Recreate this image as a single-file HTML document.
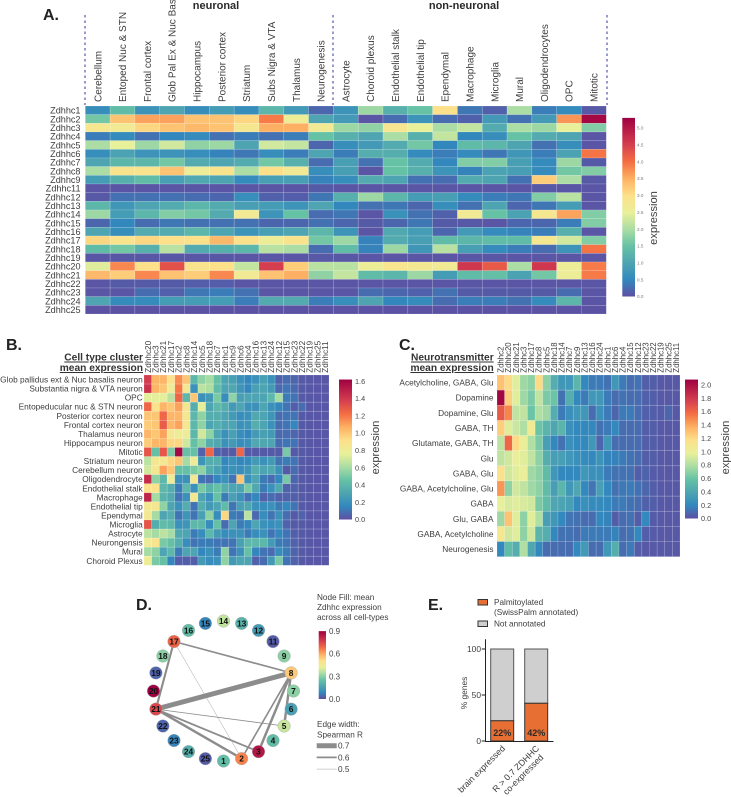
<!DOCTYPE html>
<html><head><meta charset="utf-8"><title>Zdhhc expression figure</title>
<style>
html,body{margin:0;padding:0;background:#fff}
svg{display:block;font-family:"Liberation Sans",Arial,sans-serif;filter:blur(.3px)}
text{fill:#3d3d3d}
.panel{font-weight:bold;font-size:16px;fill:#222}
.hdr{font-weight:bold;font-size:11px;fill:#2a2a2a;text-anchor:middle}
.ttl{font-weight:bold;font-size:10.2px;text-anchor:end;text-decoration:underline;fill:#333}
.lg{font-size:8.2px}
</style></head><body>
<svg id="fig" xmlns="http://www.w3.org/2000/svg" width="731" height="797" viewBox="0 0 731 797">
<defs id="defs"></defs>
<text class="panel" x="43" y="20">A.</text>
<text class="panel" x="6" y="350">B.</text>
<text class="panel" x="399" y="350">C.</text>
<text class="panel" x="136" y="610">D.</text>
<text class="panel" x="428" y="610">E.</text>
<text class="hdr" x="216" y="9">neuronal</text>
<text class="hdr" x="464" y="9">non-neuronal</text>
<line x1="85" y1="15" x2="85" y2="105" stroke="#2f3596" stroke-width="1" stroke-dasharray="2.5 3"/>
<line x1="333" y1="15" x2="333" y2="105" stroke="#2f3596" stroke-width="1" stroke-dasharray="2.5 3"/>
<line x1="607" y1="15" x2="607" y2="105" stroke="#2f3596" stroke-width="1" stroke-dasharray="2.5 3"/>
<text class="ttl" x="143" y="360.5">Cell type cluster</text>
<text class="ttl" x="143" y="371">mean expression</text>
<text class="ttl" x="493.7" y="360.5">Neurotransmitter</text>
<text class="ttl" x="493.7" y="371">mean expression</text>
<text class="lg" x="317" y="600">Node Fill: mean</text>
<text class="lg" x="317" y="610">Zdhhc expression</text>
<text class="lg" x="317" y="620">across all cell-types</text>
<text class="lg" x="317" y="727">Edge width:</text>
<text class="lg" x="317" y="737.5">Spearman R</text>
<text class="lg" x="494" y="605">Palmitoylated</text>
<text class="lg" x="494" y="615">(SwissPalm annotated)</text>
<text class="lg" x="494" y="626.5">Not annotated</text>
<rect x="478" y="599.5" width="9.5" height="5.5" fill="#e86f33" stroke="#333" stroke-width="1"/>
<rect x="478" y="621" width="9.5" height="5.5" fill="#cfcfcf" stroke="#333" stroke-width="1"/>
</svg>
<script>
const cmapStops = ['#5e4fa2','#3288bd','#4ea5b1','#66c2a5','#abdda4','#e9f09a','#fde08a','#fdb063','#f46d43','#d53e4f','#9e0142'];
const cmapPos = [0,.094,.19,.283,.377,.47,.566,.66,.755,.85,1];

const rowsA = ['Zdhhc1','Zdhhc2','Zdhhc3','Zdhhc4','Zdhhc5','Zdhhc6','Zdhhc7','Zdhhc8','Zdhhc9','Zdhhc11','Zdhhc12','Zdhhc13','Zdhhc14','Zdhhc15','Zdhhc16','Zdhhc17','Zdhhc18','Zdhhc19','Zdhhc20','Zdhhc21','Zdhhc22','Zdhhc23','Zdhhc24','Zdhhc25'];
const colsA = ['Cerebellum','Entoped Nuc & STN','Frontal cortex','Glob Pal Ex & Nuc Bas','Hippocampus','Posterior cortex','Striatum','Subs Nigra & VTA','Thalamus','Neurogenesis','Astrocyte','Choroid plexus','Endothelial stalk','Endothelial tip','Ependymal','Macrophage','Microglia','Mural','Oligodendrocytes','OPC','Mitotic'];
const valuesA = [
[.6,1.4,.7,1.0,.6,.85,.6,1.3,.8,.2,.7,1.9,1.2,1.5,3.0,.35,.15,2.0,.4,.55,.08],
[1.6,3.3,3.6,3.6,3.3,3.3,3.1,3.9,2.6,1.0,.8,.05,.25,.7,.25,.15,.8,.3,.8,3.7,5.2],
[2.8,2.7,3.1,3.3,3.4,3.3,2.8,3.5,3.5,2.7,1.9,1.8,2.85,2.5,2.0,2.2,1.1,2.0,1.9,2.5,1.7],
[.4,.55,.3,.5,.55,.3,.4,.3,.4,1.5,1.2,1.0,2.0,1.2,2.2,.5,.6,1.5,1.1,1.0,.05],
[2.0,2.5,1.9,2.3,1.8,1.9,1.0,2.3,2.2,.2,.6,.8,1.1,1.6,.5,1.4,1.3,1.0,.3,.6,.05],
[.6,.95,.7,.7,.6,.45,.35,.6,.4,1.0,.4,1.15,1.15,.55,.4,.55,.35,.75,.4,.95,3.95],
[1.0,1.3,1.3,1.6,1.1,1.0,1.1,1.6,1.2,.25,.9,.3,1.5,1.1,.5,1.7,1.7,.9,.55,1.9,.1],
[2.0,2.9,2.9,3.3,2.6,2.9,2.0,3.0,2.7,.6,.9,.05,1.5,1.2,.7,.45,.95,.9,.55,1.6,1.7],
[.85,1.2,1.4,.9,1.05,1.0,.55,.9,.9,.45,.6,1.1,1.0,.3,.25,1.1,1.0,.3,3.2,2.0,.08],
[.05,.05,.05,.05,.06,.05,.05,.05,.05,.1,.05,.05,.05,.05,.05,.05,.05,.05,.08,.06,.05],
[.08,.3,.3,.3,.25,.2,.6,.15,.12,.35,1.2,1.9,1.3,.85,.9,.55,.4,.35,1.7,2.1,.05],
[1.3,.75,1.0,1.1,1.3,1.1,.9,.85,.7,1.0,.5,.3,.35,.2,.6,.3,1.0,.2,.35,.85,.05],
[1.9,.85,1.3,1.7,1.6,1.1,2.7,.7,1.5,.25,.35,.05,.65,.3,.15,2.7,1.5,.95,2.8,3.6,1.7],
[.2,.5,.25,.35,.3,.3,.3,.2,.2,.3,.2,.1,.2,.35,.1,.08,.05,.2,.2,.4,1.7],
[1.0,.6,1.1,1.1,1.3,1.0,.7,.9,1.0,1.3,.7,.05,1.05,.85,.2,.8,.55,.45,.4,1.2,.05],
[3.1,2.9,3.1,3.0,3.0,3.4,3.0,2.6,2.9,1.6,1.9,.45,1.1,.9,1.4,1.3,1.4,1.4,2.8,2.3,1.7],
[1.4,1.6,1.2,2.1,1.1,1.2,1.3,2.1,2.0,.25,1.4,.45,1.9,.75,2.1,.9,.55,.4,.25,.7,3.95],
[.06,.07,.06,.07,.06,.07,.05,.06,.06,.08,.07,.05,.05,.05,.05,.06,.06,.05,.05,.05,.05],
[2.4,3.8,3.0,4.3,2.9,3.0,2.2,4.5,3.2,2.1,2.1,2.6,2.85,2.75,2.7,4.6,4.2,2.0,4.6,2.6,3.9],
[3.4,3.2,3.8,3.3,3.2,3.8,2.7,3.3,3.5,1.8,2.2,1.4,1.3,1.9,.85,1.4,1.45,.95,1.6,2.6,3.9],
[.05,.1,.1,.1,.12,.12,.05,.05,.05,.05,.05,.05,.05,.05,.05,.06,.06,.05,.05,.05,.05],
[.05,.05,.25,.15,.35,.4,.3,.05,.05,.05,.05,.25,.2,.15,.3,.1,.1,.1,.1,.25,.05],
[1.0,.55,.55,.85,.85,.85,.4,1.1,1.1,.4,.6,1.0,.5,.55,.25,.4,.4,.3,.55,1.3,.05],
[.03,.03,.03,.03,.03,.03,.03,.03,.03,.03,.03,.03,.03,.03,.03,.03,.03,.03,.03,.03,.03]
];

const rowsB = ['Glob pallidus ext & Nuc basalis neuron','Substantia nigra & VTA neuron','OPC','Entopeducular nuc & STN neuron','Posterior cortex neuron','Frontal cortex neuron','Thalamus neuron','Hippocampus neuron','Mitotic','Striatum neuron','Cerebellum neuron','Oligodendrocyte','Endothelial stalk','Macrophage','Endothelial tip','Ependymal','Microglia','Astrocyte','Neurongensis','Mural','Choroid Plexus'];
const colsB = ['Zdhhc20','Zdhhc3','Zdhhc21','Zdhhc17','Zdhhc2','Zdhhc8','Zdhhc14','Zdhhc5','Zdhhc18','Zdhhc7','Zdhhc1','Zdhhc9','Zdhhc6','Zdhhc4','Zdhhc16','Zdhhc13','Zdhhc24','Zdhhc12','Zdhhc15','Zdhhc23','Zdhhc22','Zdhhc19','Zdhhc25','Zdhhc11'];
const valuesB = [
[1.38,1.05,1.05,.9,1.15,1.0,.4,.55,.6,.45,.3,.28,.2,.15,.2,.28,.2,.05,.08,.06,.03,.02,.02,.02],
[1.42,1.05,1.0,.8,1.2,.85,.2,.65,.62,.42,.3,.32,.22,.15,.28,.3,.25,.07,.1,.07,.03,.02,.02,.02],
[.75,.75,.75,.65,1.25,.4,1.0,.2,.25,.5,.18,.55,.28,.3,.3,.3,.4,.6,.12,.1,.03,.02,.02,.02],
[1.25,.9,1.05,1.0,1.1,.85,.35,.75,.3,.4,.35,.25,.3,.2,.2,.3,.2,.15,.1,.04,.08,.02,.02,.02],
[1.0,1.0,1.25,1.05,1.05,.85,.4,.55,.35,.35,.3,.25,.18,.2,.32,.3,.22,.08,.1,.1,.03,.02,.02,.02],
[.98,1.0,1.28,1.05,1.1,.85,.4,.55,.3,.35,.3,.3,.2,.22,.35,.3,.2,.08,.1,.15,.03,.02,.02,.02],
[1.05,1.0,1.1,.85,.8,.8,.4,.7,.55,.3,.2,.28,.18,.15,.25,.28,.25,.07,.08,.06,.03,.02,.02,.02],
[.98,1.05,1.05,.95,.95,.7,.45,.55,.35,.32,.2,.25,.18,.2,.32,.32,.3,.08,.1,.1,.03,.02,.02,.02],
[1.3,.45,1.3,.5,1.6,.45,.45,.05,1.25,.05,.03,.03,1.25,.03,.03,.03,.03,.03,.5,.03,.03,.02,.02,.02],
[.65,.85,.85,.95,1.0,.6,.8,.22,.35,.35,.15,.2,.15,.17,.25,.2,.25,.1,.12,.1,.03,.02,.02,.02],
[.7,.85,1.1,1.0,.45,.45,.5,.55,.35,.28,.17,.2,.18,.22,.35,.3,.32,.2,.03,.08,.03,.02,.02,.02],
[1.45,.55,.4,.8,.2,.2,.85,.1,.08,.15,.2,.1,1.0,.2,.3,.12,.08,.15,.5,.06,.03,.02,.02,.02],
[.9,.9,.4,.35,.12,.4,.2,.5,.38,.45,.35,.3,.3,.5,.32,.12,.2,.32,.05,.05,.03,.02,.02,.02],
[1.48,.6,.38,.33,.1,.2,.85,.3,.2,.45,.12,.28,.2,.1,.15,.05,.08,.05,.05,.04,.03,.02,.02,.02],
[.85,.85,.55,.3,.2,.35,.1,.35,.25,.3,.42,.1,.28,.32,.2,.18,.2,.12,.15,.1,.03,.02,.02,.02],
[.85,.6,.3,.35,.1,.22,.1,.28,.55,.18,.95,.12,.1,.65,.07,.18,.1,.2,.08,.03,.05,.02,.02,.02],
[1.3,.35,.42,.4,.2,.22,.4,.4,.18,.45,.08,.3,.12,.15,.3,.2,.18,.2,.05,.03,.03,.02,.02,.02],
[.65,.6,.65,.6,.32,.3,.12,.18,.4,.25,.18,.2,.2,.12,.18,.2,.1,.15,.1,.04,.03,.02,.02,.02],
[.8,.9,.5,.45,.35,.18,.1,.12,.12,.1,.1,.1,.28,.4,.4,.4,.25,.12,.1,.05,.03,.02,.02,.02],
[.6,.55,.3,.4,.12,.3,.3,.15,.2,.12,.55,.1,.2,.45,.15,.1,.08,.18,.12,.05,.03,.02,.02,.02],
[.8,.5,.45,.15,.04,.04,.04,.25,.18,.2,.55,.25,.3,.3,.05,.08,.25,.5,.1,.05,.03,.02,.02,.02]
];

const rowsC = ['Acetylcholine, GABA, Glu','Dopamine','Dopamine, Glu','GABA, TH','Glutamate, GABA, TH','Glu','GABA, Glu','GABA, Acetylcholine, Glu','GABA','Glu, GABA','GABA, Acetylcholine','Neurogenesis'];
const colsC = ['Zdhhc2','Zdhhc20','Zdhhc21','Zdhhc3','Zdhhc17','Zdhhc8','Zdhhc5','Zdhhc18','Zdhhc14','Zdhhc7','Zdhhc9','Zdhhc13','Zdhhc16','Zdhhc24','Zdhhc1','Zdhhc6','Zdhhc4','Zdhhc15','Zdhhc12','Zdhhc23','Zdhhc22','Zdhhc19','Zdhhc25','Zdhhc11'];
const valuesC = [
[1.3,1.2,.95,.75,.7,1.2,.7,.45,.3,.3,.5,.2,.15,.15,.12,.3,.15,.1,.12,.05,.05,.03,.03,.03],
[2.05,1.25,.95,.75,.65,.85,.65,.6,.12,.45,.2,.15,.3,.3,.15,.1,.12,.1,.1,.06,.05,.03,.03,.03],
[1.65,1.5,.85,.85,.6,.8,.75,.45,.15,.25,.3,.3,.1,.25,.15,.08,.15,.15,.1,.06,.05,.04,.08,.03],
[1.25,.95,.88,.8,1.05,.6,.5,.4,.5,.25,.2,.2,.2,.12,.15,.2,.1,.1,.1,.05,.05,.03,.03,.03],
[.85,1.6,1.2,1.0,.8,.65,.35,.2,.12,.25,.2,.2,.3,.08,.3,.1,.1,.1,.1,.05,.05,.03,.03,.03],
[.85,.9,1.0,.95,.85,.7,.45,.35,.35,.3,.25,.22,.2,.28,.18,.18,.15,.12,.1,.05,.05,.03,.03,.03],
[1.15,.9,.95,1.0,.75,.7,.55,.3,.2,.2,.2,.3,.25,.25,.15,.12,.12,.12,.05,.07,.04,.03,.03,.03],
[1.45,.7,.9,.85,.75,.7,.55,.35,.5,.3,.4,.2,.13,.35,.2,.12,.14,.15,.12,.08,.05,.03,.03,.03],
[.98,.92,.95,.92,.9,.65,.55,.4,.38,.35,.2,.25,.22,.22,.2,.15,.15,.12,.1,.06,.05,.03,.03,.03],
[.75,1.3,.95,.7,.95,.8,.35,.3,.2,.13,.12,.1,.1,.2,.18,.05,.1,.12,.05,.2,.04,.03,.03,.03],
[1.1,.9,.95,.7,.9,.5,.45,.2,.12,.12,.1,.15,.15,.15,.15,.18,.1,.12,.2,.05,.04,.03,.03,.03],
[.2,.55,.45,.8,.4,.2,.1,.1,.1,.1,.2,.32,.1,.1,.3,.45,.1,.15,.05,.03,.03,.03,.03,.03]
];

const ticksA = [0,.5,1,1.5,2,2.5,3,3.5,4,4.5,5];
const ticksB = [0,.2,.4,.6,.8,1,1.2,1.4,1.6];
const ticksC = [0,.2,.4,.6,.8,1,1.2,1.4,1.6,1.8,2];
const ticksD = [0,.3,.6,.9];

const nodeIds = [1,2,3,4,5,6,7,8,9,11,12,13,14,15,16,17,18,19,20,21,22,23,24,25];
const nodeExpr = [.24,.65,.85,.24,.38,.16,.3,.55,.3,.02,.14,.21,.37,.08,.24,.7,.3,.03,.9,.75,.03,.08,.2,.02];
const edgeFrom = [8,17,17,17,21,21,21,8,8,8];
const edgeTo = [21,8,21,2,2,3,5,2,3,5];
const edgeR = [.7,.59,.61,.5,.62,.6,.53,.59,.62,.62];
const legendR = [.7,.6,.5];

const barCats = ['brain expressed','R > 0.7 ZDHHC'];
const barPalm = [22,41];
const barLabels = ['22%','42%'];
const barTicks = [0,50,100];

const NS = 'http://www.w3.org/2000/svg';
const fig = document.getElementById('fig');
const defs = document.getElementById('defs');
function mk(tag, attrs, text){
  const e = document.createElementNS(NS, tag);
  for (const k in attrs) e.setAttribute(k, attrs[k]);
  if (text !== undefined) e.textContent = text;
  fig.appendChild(e);
  return e;
}
function hex(c){ return [1,3,5].map(i => parseInt(c.substr(i,2),16)); }
function cmap(t){
  t = Math.max(0, Math.min(1, t));
  let i = 0;
  while (i < cmapPos.length - 2 && t > cmapPos[i+1]) i++;
  const f = (t - cmapPos[i]) / (cmapPos[i+1] - cmapPos[i]);
  const a = hex(cmapStops[i]), b = hex(cmapStops[i+1]);
  return 'rgb(' + a.map((v,k) => Math.round(v + (b[k]-v)*f)).join(',') + ')';
}
function heatmap(prefix, cfg){
  const cw = cfg.w / cfg.cols.length, rh = cfg.h / cfg.rows.length;
  const xBand = i => cfg.x + i * cw;
  const yBand = j => cfg.y + j * rh;
  cfg.vals.forEach((row, j) => row.forEach((v, i) => {
    const c = mk('rect', {x:xBand(i), y:yBand(j), width:cw, height:rh, fill:cmap(v/cfg.vmax), stroke:'rgba(255,255,255,.25)', 'stroke-width':.6});
    
    
  }));
  cfg.rows.forEach((r, j) => {
    const t = mk('text', {x:cfg.rowX, y:yBand(j)+rh/2+cfg.rowFs*.36, 'text-anchor':'end', 'font-size':cfg.rowFs}, r);
    
    
  });
  cfg.cols.forEach((c, i) => {
    const cx = xBand(i) + cw/2 + cfg.colFs*.36;
    const t = mk('text', {transform:'translate('+cx+','+cfg.colY+') rotate(-90)', 'font-size':cfg.colFs}, c);
    
    
  });
}
function colorbar(id, cfg){
  const g = document.createElementNS(NS, 'linearGradient');
  g.setAttribute('id', id);
  g.setAttribute('x1', '0'); g.setAttribute('y1', '1'); g.setAttribute('x2', '0'); g.setAttribute('y2', '0');
  cmapStops.forEach((c, i) => {
    const s = document.createElementNS(NS, 'stop');
    s.setAttribute('offset', cmapPos[i]);
    s.setAttribute('stop-color', c);
    g.appendChild(s);
  });
  defs.appendChild(g);
  const yScale = v => cfg.zero - v * cfg.perUnit;
  const top = yScale(cfg.vmax);
  const b = mk('rect', {x:cfg.x, y:top, width:cfg.w, height:cfg.zero-top, fill:'url(#'+id+')'});
  
  
  cfg.ticks.forEach(v => {
    const t = mk('text', {x:cfg.labelX, y:yScale(v)+cfg.fs*.36, 'font-size':cfg.fs, fill:cfg.color, style:'fill:'+cfg.color}, v.toFixed(1));
    
    
  });
  if (cfg.titleX) {
    const t = mk('text', {transform:'translate('+cfg.titleX+','+cfg.titleY+') rotate(-90)', 'font-size':11.1, 'text-anchor':'middle'}, 'expression');
    
    
  }
}

heatmap('a', {x:85.3, y:106, w:521, h:208, rows:rowsA, cols:colsA, vals:valuesA, vmax:5.3, rowX:80.5, rowFs:9.1, colY:102, colFs:10});
heatmap('b', {x:144, y:375, w:185, h:190.3, rows:rowsB, cols:colsB, vals:valuesB, vmax:1.62, rowX:142.7, rowFs:8.3, colY:372.7, colFs:8.2});
heatmap('c', {x:497, y:375, w:183, h:181.7, rows:rowsC, cols:colsC, vals:valuesC, vmax:2.08, rowX:493.5, rowFs:8.3, colY:372.7, colFs:7.8});
colorbar('cbA', {x:622.3, w:12.7, zero:296.5, perUnit:33.7, vmax:5.3, ticks:ticksA, labelX:637, fs:4.6, color:'#777', titleX:657, titleY:218});
colorbar('cbB', {x:339, w:13, zero:519.5, perUnit:86.4, vmax:1.62, ticks:ticksB, labelX:355, fs:7.3, color:'#444', titleX:379, titleY:447.5});
colorbar('cbC', {x:685, w:13, zero:518.5, perUnit:66.8, vmax:2.08, ticks:ticksC, labelX:701, fs:7.3, color:'#444', titleX:729, titleY:447.5});
colorbar('cbD', {x:318.7, w:7.3, zero:699, perUnit:75.4, vmax:.9, ticks:ticksD, labelX:329, fs:8, color:'#444'});

/* network */
const netCx = 223.5, netCy = 691, netR = 70;
const nodeX = id => netCx + netR * Math.cos((90 - nodeIds.indexOf(id)*15) * Math.PI/180);
const nodeY = id => netCy + netR * Math.sin((90 - nodeIds.indexOf(id)*15) * Math.PI/180);
const edgeWidth = r => r >= .6 ? 1.8 + (r-.6)*32 : Math.max(.4, .4 + (r-.5)*14);
edgeFrom.forEach((a, i) => {
  const l = mk('line', {x1:nodeX(a), y1:nodeY(a), x2:nodeX(edgeTo[i]), y2:nodeY(edgeTo[i]), stroke:'#8c8c8c', 'stroke-width':edgeWidth(edgeR[i])});
  
  
});
nodeIds.forEach((id, i) => {
  const c = mk('circle', {cx:nodeX(id), cy:nodeY(id), r:6.3, fill:cmap(nodeExpr[i]/.9), stroke:'#a8a8a8', 'stroke-width':.4});
  
  
  const t = mk('text', {x:nodeX(id), y:nodeY(id)+3, 'text-anchor':'middle', 'font-size':8.4, 'font-weight':'bold', style:'fill:#111'}, id);
  
  
});
legendR.forEach((r, i) => {
  const y = 745.7 + i * 11.7;
  const l = mk('line', {x1:316.7, y1:y, x2:336.7, y2:y, stroke:'#8c8c8c', 'stroke-width':edgeWidth(r)});
  
  
  const t = mk('text', {x:338, y:y+3, 'font-size':8.2}, r.toFixed(1));
  
  
});

/* stacked bars */
const yE = v => 741 - v * .92;
const xE = i => 490.7 + i * 34;
const barW = 23;
barPalm.forEach((v, i) => {
  const g = mk('rect', {x:xE(i), y:yE(100), width:barW, height:yE(v)-yE(100), fill:'#cfcfcf', stroke:'#555', 'stroke-width':1});
  
  
  const o = mk('rect', {x:xE(i), y:yE(v), width:barW, height:yE(0)-yE(v), fill:'#e86f33', stroke:'#333', 'stroke-width':1});
  
  
  const t = mk('text', {x:xE(i)+barW/2, y:736, 'text-anchor':'middle', 'font-size':9, 'font-weight':'bold', style:'fill:#2a2a2a'}, barLabels[i]);
  
  
});
barTicks.forEach(v => {
  const l = mk('line', {x1:481.7, y1:yE(v), x2:485.3, y2:yE(v), stroke:'#222', 'stroke-width':1});
  
  
  const t = mk('text', {x:481, y:yE(v)+3, 'text-anchor':'end', 'font-size':8.4}, v);
  
  
});
const yAxis = mk('line', {x1:485.5, y1:639.3, x2:485.5, y2:741.5, stroke:'#222', 'stroke-width':1});


const xAxis = mk('line', {x1:485, y1:741.5, x2:553.5, y2:741.5, stroke:'#222', 'stroke-width':1});


const yTitle = mk('text', {transform:'translate(467,693) rotate(-90)', 'text-anchor':'middle', 'font-size':8.4}, '% genes');


barCats.forEach((c, i) => {
  const t = mk('text', {transform:'translate('+(xE(i)+15)+',749) rotate(-45)', 'text-anchor':'end', 'font-size':8.8}, c);
  
  
});
const xLine2 = mk('text', {transform:'translate(544,758) rotate(-45)', 'text-anchor':'end', 'font-size':8.8}, 'co-expressed');


</script>
</body></html>
